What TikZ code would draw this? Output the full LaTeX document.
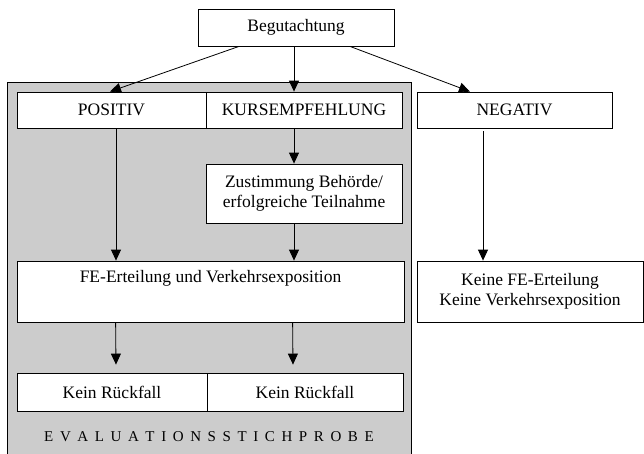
\documentclass[tikz,border=0pt]{standalone}
\usepackage{fontspec}
\setmainfont{Liberation Serif}
\usetikzlibrary{arrows.meta}
\definecolor{panel}{RGB}{204,204,204}
\newcommand\lsp{\hspace{6.6pt}}
\begin{document}
\begin{tikzpicture}[x=1pt,y=-1pt,
  box/.style={draw, line width=0.8pt, fill=white, inner sep=0pt,
    font=\fontsize{17.5}{20}\selectfont, align=center},
  arr/.style={line width=0.8pt, -{Triangle[length=11pt,width=10pt]}},
  ln/.style={line width=0.8pt}]
\useasboundingbox (0,0) rectangle (644,453);
% grey panel (evaluation sample)
\draw[fill=panel, line width=0.9pt] (7,82) rectangle (411,470);
% nodes
\node[box, minimum width=196pt, minimum height=37pt] (beg) at (296,27.5) {Begutachtung};
\node[box, minimum width=189pt, minimum height=36pt] (pos) at (111.5,110) {POSITIV};
\node[box, minimum width=196pt, minimum height=36pt] (kurs) at (304,110) {KURSEMPFEHLUNG};
\node[box, minimum width=195pt, minimum height=36pt] (neg) at (514.5,110) {NEGATIV};
\node[box, minimum width=196pt, minimum height=59pt] (zust) at (304,193.5) {Zustimmung Behörde/\\erfolgreiche Teilnahme};
\node[box, minimum width=387pt, minimum height=61pt, text height=12pt, text depth=30pt] (fe) at (210.5,291.5) {FE-Erteilung und Verkehrsexposition};
\node[box, minimum width=226pt, minimum height=61pt] (keine) at (530,291.5) {Keine FE-Erteilung\\Keine Verkehrsexposition};
\node[box, minimum width=190pt, minimum height=38pt] (kr1) at (112,392) {Kein Rückfall};
\node[box, minimum width=196pt, minimum height=38pt] (kr2) at (305,392) {Kein Rückfall};
\node[font=\fontsize{15}{18}\selectfont, inner sep=0pt] (evl) at (209,437)
  {E\lsp V\lsp A\lsp L\lsp U\lsp A\lsp T\lsp I\lsp O\lsp N\lsp S\lsp S\lsp T\lsp I\lsp C\lsp H\lsp P\lsp R\lsp O\lsp B\lsp E};
% connectors
\draw[arr] ([xshift=-57pt]beg.south) -- ([xshift=-1.5pt]pos.north);
\draw[arr] ([xshift=-2pt]beg.south) -- ([xshift=-10pt]kurs.north);
\draw[arr] ([xshift=54pt]beg.south) -- ([xshift=-44.5pt]neg.north);
\draw[arr] ([xshift=4.5pt]pos.south) -- ([xshift=4.5pt]pos.south |- fe.north);
\draw[arr] ([xshift=-10pt]kurs.south) -- ([xshift=-10pt]zust.north);
\draw[arr] ([xshift=-10pt]zust.south) -- ([xshift=-10pt]zust.south |- fe.north);
\draw[arr] ([xshift=-31.5pt,yshift=-3pt]neg.south) -- ([xshift=-31.5pt]neg.south |- keine.north);
\draw[arr] ([xshift=99pt]fe.south west) -- ([xshift=4pt,yshift=8pt]kr1.north);
\draw[arr] ([xshift=276pt]fe.south west) -- ([xshift=-12pt,yshift=8pt]kr2.north);
\end{tikzpicture}
\end{document}
